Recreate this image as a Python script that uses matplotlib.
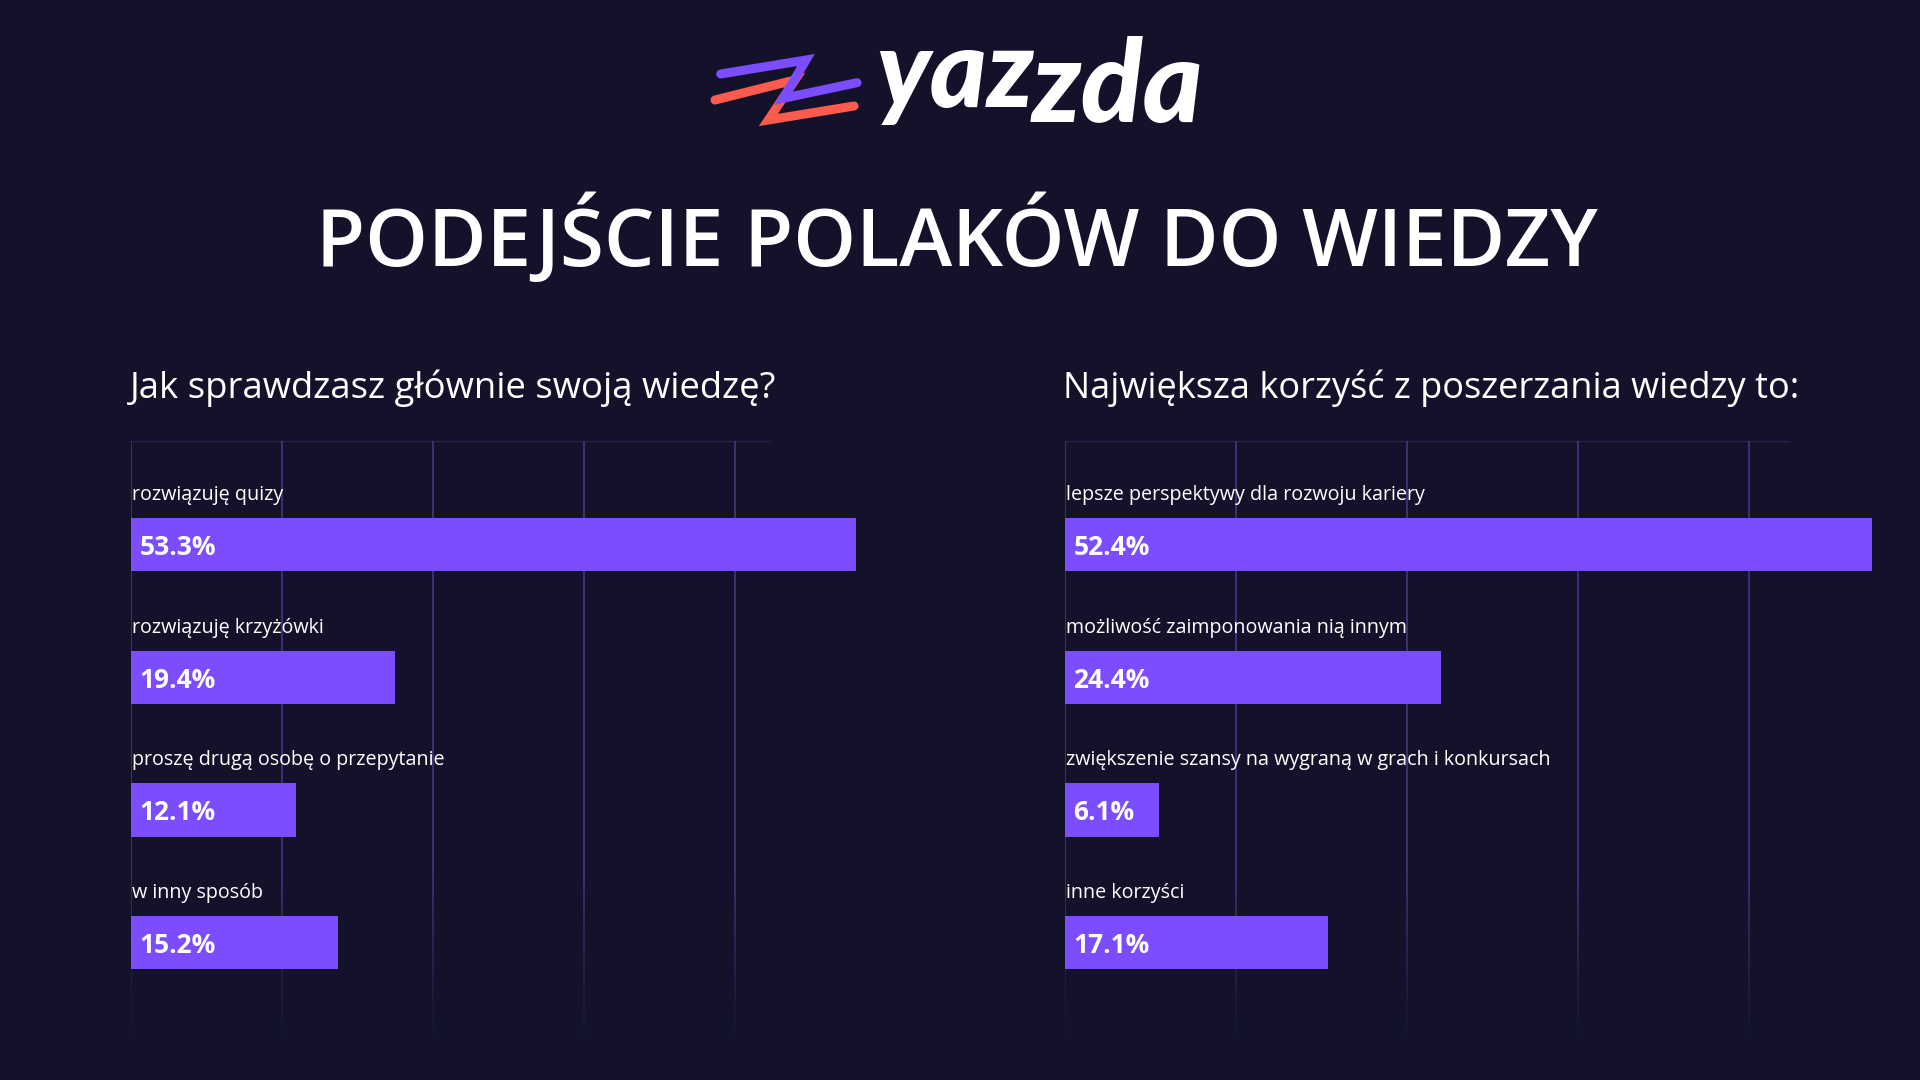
import numpy as np
import matplotlib
matplotlib.use("Agg")
import matplotlib.pyplot as plt
from matplotlib.collections import LineCollection

# data
left_title = "Jak sprawdzasz głównie swoją wiedzę?"
left_labels = ["rozwiązuję quizy", "rozwiązuję krzyżówki",
               "proszę drugą osobę o przepytanie", "w inny sposób"]
left_values = [53.3, 19.4, 12.1, 15.2]

right_title = "Największa korzyść z poszerzania wiedzy to:"
right_labels = ["lepsze perspektywy dla rozwoju kariery",
                "możliwość zaimponowania nią innym",
                "zwiększenie szansy na wygraną w grach i konkursach",
                "inne korzyści"]
right_values = [52.4, 24.4, 6.1, 17.1]

grid_ticks = [0, 11.1, 22.2, 33.3, 44.4]

BG = "#13122a"
BAR = "#7b4dff"
GRID = "#4a3f8f"
FONT = ["Open Sans", "DejaVu Sans"]

W, H = 1920, 1080
fig = plt.figure(figsize=(19.2, 10.8), dpi=100, facecolor=BG)


def rect(x, y, w, h):
    # pixel box (top-left origin) -> figure fraction
    return [x / W, 1 - (y + h) / H, w / W, h / H]


def panel(x0, width, xmax, labels, values):
    ax = fig.add_axes(rect(x0, 441, width, 600))
    ax.set_facecolor("none")
    ax.set_xlim(0, xmax)
    ax.set_ylim(3.74, -0.78)
    ax.axis("off")

    # fading vertical grid
    ys = np.linspace(-0.78, 3.74, 120)
    for gx in grid_ticks:
        segs = [[(gx, ys[i]), (gx, ys[i + 1])] for i in range(len(ys) - 1)]
        mid = (ys[:-1] + ys[1:]) / 2
        alpha = np.clip((3.74 - mid) / 1.3, 0, 1) * 0.85
        cols = [matplotlib.colors.to_rgba(GRID, a) for a in alpha]
        ax.add_collection(LineCollection(segs, colors=cols, linewidths=1.2, zorder=1))
    ax.plot([0, 47], [-0.78, -0.78], color=GRID, alpha=0.35, lw=1, zorder=1)

    pos = np.arange(len(values))
    ax.barh(pos, values, height=0.40, color=BAR, zorder=2)
    for i, (lab, v) in enumerate(zip(labels, values)):
        ax.text(0.05, i - 0.375, lab, color="white", fontsize=14.2, family=FONT,
                ha="left", va="center", zorder=3)
        ax.annotate(f"{v}%", (0, i), xytext=(6, -2), textcoords="offset points",
                    color="white", fontsize=19, fontweight="bold", family=FONT,
                    ha="left", va="center", zorder=3)
    return ax


panel(131, 800, 800 / 13.6, left_labels, left_values)
panel(1065, 840, 840 / 15.4, right_labels, right_values)

# titles
fig.text(957 / W, 1 - 240 / H, "PODEJŚCIE POLAKÓW DO WIEDZY", color="white",
         fontsize=57.5, fontweight="semibold", family=FONT, ha="center", va="center")
fig.text(130 / W, 1 - 388 / H, left_title, color="white", fontsize=26.3,
         family=FONT, ha="left", va="center")
fig.text(1063 / W, 1 - 388 / H, right_title, color="white", fontsize=26,
         family=FONT, ha="left", va="center")

# logo
lg = fig.add_axes(rect(700, 40, 520, 100))
lg.set_xlim(0, 520)
lg.set_ylim(100, 0)
lg.axis("off")
red = [(15, 60), (95, 40), (68.3, 80), (154, 66)]
purple = [(20.7, 34), (106, 20), (83.3, 58.3), (157, 42.7)]
for pts, c in [(red, "#ff5a4e"), (purple, "#7b4dff")]:
    xs, ys = zip(*pts)
    lg.plot(xs, ys, color=c, lw=6.5, solid_capstyle="round", solid_joinstyle="miter")
lg.text(176, 67, "yaz", color="white", fontsize=78, fontweight="black",
        style="italic", family=["Lato", "DejaVu Sans"], ha="left", va="baseline")
lg.text(332, 82, "zda", color="white", fontsize=82, fontweight="black",
        style="italic", family=["Lato", "DejaVu Sans"], ha="left", va="baseline")

fig.savefig("out.png", dpi=100, facecolor=BG)
